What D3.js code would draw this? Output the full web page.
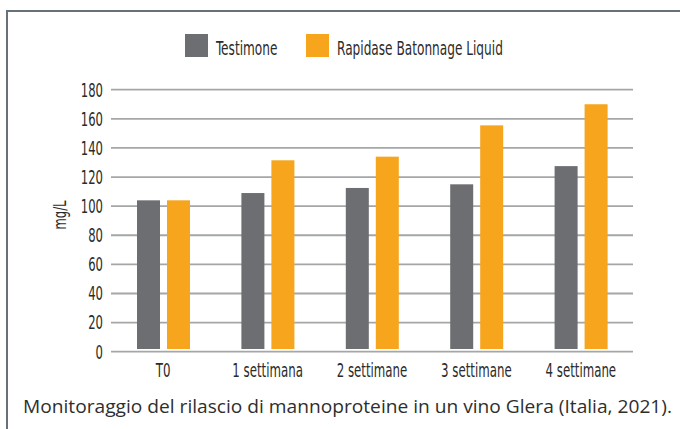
<!DOCTYPE html>
<html>
<head>
<meta charset="utf-8">
<script src="https://cdn.jsdelivr.net/npm/d3@7"></script>
<style>
  body { margin: 0; background: #fff; }
  .cond { font-family: "Liberation Sans Narrow", "DejaVu Sans Condensed", "Liberation Sans", sans-serif; fill: #2b2b2b; }
  .caption { font-family: "Open Sans", "Lato", sans-serif; fill: #2e2e2e; }
  .grid line { stroke: #a5a6a8; stroke-width: 1.8; }
</style>
</head>
<body>
<svg id="chart" width="680" height="429"></svg>
<script>
// data
var categories = ['T0', '1 settimana', '2 settimane', '3 settimane', '4 settimane'];
var seriesNames = ['Testimone', 'Rapidase Batonnage Liquid'];
var testimone = [104, 109, 112.5, 115, 127.5];
var rapidase = [104, 131.5, 134, 155.5, 170];
var yTicks = [0, 20, 40, 60, 80, 100, 120, 140, 160, 180];
var colors = ['#6d6e71', '#f6a51c'];

var svg = d3.select('#chart');

// squeeze the font to look like the condensed original
function condense(sel, f) {
    sel.each(function() {
        var w = this.getComputedTextLength();
        d3.select(this).attr('textLength', w * f).attr('lengthAdjust', 'spacingAndGlyphs');
    });
}

// frame (top and left edges only)
svg.append('path')
    .attr('d', 'M7,429V11H680')
    .attr('fill', 'none')
    .attr('stroke', '#66727a')
    .attr('stroke-width', 2);

var x0 = d3.scaleBand().domain(categories).range([111, 633]);
var x1 = d3.scaleBand().domain(seriesNames).range([0, 53]).paddingInner(0.233);
var y = d3.scaleLinear().domain([0, 180]).range([351.7, 89.7]);

// gridlines
svg.append('g').attr('class', 'grid')
    .selectAll('line').data(yTicks).enter().append('line')
    .attr('x1', 111).attr('x2', 633)
    .attr('y1', function(d) { return y(d); })
    .attr('y2', function(d) { return y(d); });

// y tick labels
svg.append('g').selectAll('text').data(yTicks).enter().append('text')
    .attr('class', 'cond')
    .attr('x', 103)
    .attr('y', function(d) { return y(d); })
    .attr('dy', '0.36em')
    .attr('text-anchor', 'end')
    .style('font-size', '19px')
    .text(function(d) { return d; })
    .call(condense, 0.68);

// y axis title
svg.append('text')
    .attr('class', 'cond')
    .attr('transform', 'translate(66,215) rotate(-90)')
    .attr('text-anchor', 'middle')
    .style('font-size', '18px')
    .text('mg/L')
    .call(condense, 0.72);

// bars
var rows = categories.map(function(c, i) { return { cat: c, vals: [testimone[i], rapidase[i]] }; });
var groups = svg.append('g').selectAll('g').data(rows).enter().append('g')
    .attr('transform', function(d) { return 'translate(' + (x0(d.cat) + 26) + ',0)'; });

groups.selectAll('rect').data(function(d) {
        return d.vals.map(function(v, j) { return { name: seriesNames[j], value: v, i: j }; });
    })
    .enter().append('rect')
    .attr('x', function(d) { return x1(d.name); })
    .attr('width', x1.bandwidth())
    .attr('y', function(d) { return y(d.value); })
    .attr('height', function(d) { return y(0) - 2.7 - y(d.value); })
    .attr('fill', function(d) { return colors[d.i]; });

// x labels
svg.append('g').selectAll('text').data(categories).enter().append('text')
    .attr('class', 'cond')
    .attr('x', function(d) { return x0(d) + x0.bandwidth() / 2; })
    .attr('y', 377)
    .attr('text-anchor', 'middle')
    .style('font-size', '19px')
    .text(function(d) { return d; })
    .call(condense, 0.69);

// legend
var legendX = [185, 306];
var legend = svg.append('g').selectAll('g').data(seriesNames).enter().append('g')
    .attr('transform', function(d, i) { return 'translate(' + legendX[i] + ',34)'; });
legend.append('rect')
    .attr('width', 23).attr('height', 23)
    .attr('fill', function(d, i) { return colors[i]; });
legend.append('text')
    .attr('class', 'cond')
    .attr('x', 31).attr('y', 21)
    .style('font-size', '19px')
    .text(function(d) { return d; })
    .call(condense, 0.71);

// caption
svg.append('text')
    .attr('class', 'caption')
    .attr('x', 23).attr('y', 413)
    .style('font-size', '19px')
    .attr('textLength', 649)
    .attr('lengthAdjust', 'spacingAndGlyphs')
    .text('Monitoraggio del rilascio di mannoproteine in un vino Glera (Italia, 2021).');
</script>
</body>
</html>
